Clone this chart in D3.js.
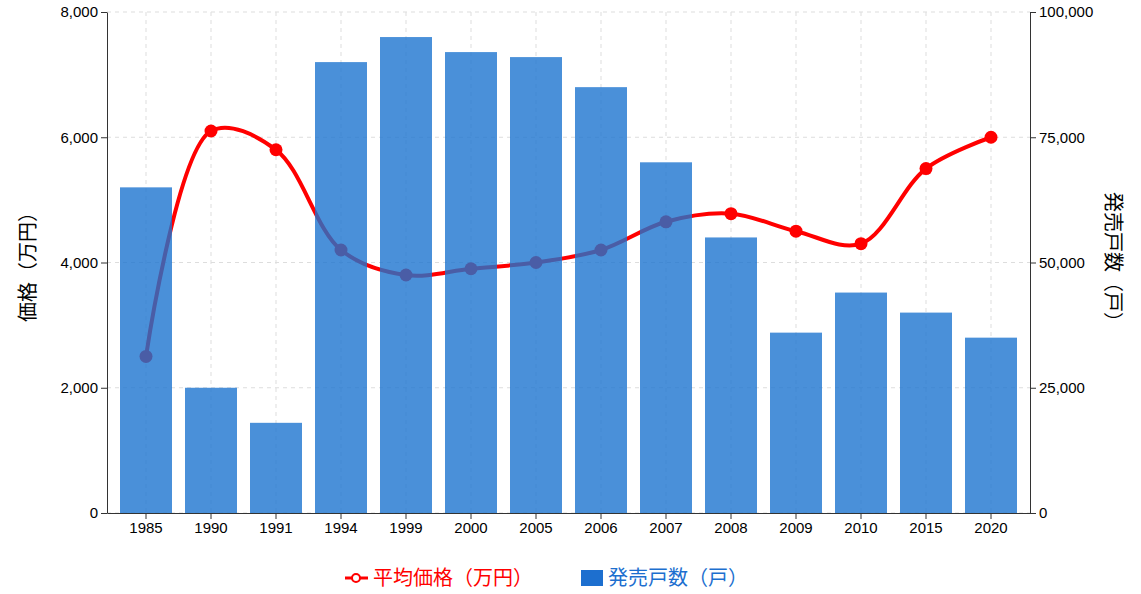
<!DOCTYPE html>
<html><head><meta charset="utf-8">
<script src="https://cdn.jsdelivr.net/npm/d3@7/dist/d3.min.js"></script>
<style>body{margin:0;background:#fff;font-family:"Noto Sans CJK JP","Noto Sans",sans-serif;}</style>
</head><body><svg id="c" width="1141" height="594"></svg>
<script>
const years=["1985","1990","1991","1994","1999","2000","2005","2006","2007","2008","2009","2010","2015","2020"];
const units=[65000,25000,18000,90000,95000,92000,91000,85000,70000,55000,36000,44000,40000,35000];
const prices=[2500,6100,5800,4200,3800,3900,4000,4200,4650,4780,4500,4300,5500,6000];
const leftTicks=[0,2000,4000,6000,8000];
const rightTicks=[0,25000,50000,75000,100000];
const svg=d3.select("#c");
const L=107,R=1030,T=12,B=513;
const x=d3.scaleBand().domain(years).range([L,R]).padding(0.2);
const yl=d3.scaleLinear().domain([0,8000]).range([B,T]);
const yr=d3.scaleLinear().domain([0,100000]).range([B,T]);
const g=svg.append("g");
g.selectAll(".vg").data(years).enter().append("line").attr("x1",d=>x(d)+x.bandwidth()/2).attr("x2",d=>x(d)+x.bandwidth()/2).attr("y1",T).attr("y2",B).attr("stroke","#ddd").attr("stroke-dasharray","4,4");
g.selectAll(".hg").data(leftTicks).enter().append("line").attr("x1",L).attr("x2",R).attr("y1",d=>yl(d)).attr("y2",d=>yl(d)).attr("stroke","#ddd").attr("stroke-dasharray","4,4");
const cx=(d,i)=>x(years[i])+x.bandwidth()/2;
svg.append("path").datum(prices).attr("d",d3.line().x(cx).y(d=>yl(d)).curve(d3.curveCatmullRom.alpha(0.5))).attr("fill","none").attr("stroke","#f00").attr("stroke-width",4);
svg.selectAll(".pt").data(prices).enter().append("circle").attr("cx",cx).attr("cy",d=>yl(d)).attr("r",6.5).attr("fill","#f00");
svg.selectAll(".bar").data(units).enter().append("rect").attr("x",(d,i)=>x(years[i])).attr("width",x.bandwidth()).attr("y",d=>yr(d)).attr("height",d=>B-yr(d)).attr("fill","#1d74cf").attr("opacity",0.8);
const ax=svg.append("g").attr("transform",`translate(0,${B})`).call(d3.axisBottom(x).tickSizeOuter(0));
const al=svg.append("g").attr("transform",`translate(${L},0)`).call(d3.axisLeft(yl).tickValues(leftTicks).tickSizeOuter(0));
const ar=svg.append("g").attr("transform",`translate(${R},0)`).call(d3.axisRight(yr).tickValues(rightTicks).tickSizeOuter(0));
[ax,al,ar].forEach(a=>{a.selectAll("text").attr("font-size",15).attr("fill","#000").attr("font-family","Liberation Sans, Arial, sans-serif");a.selectAll("line,path").attr("stroke","#333");});
svg.append("text").attr("transform","translate(35,262) rotate(-90)").attr("text-anchor","middle").attr("font-size",20).text("価格（万円）");
svg.append("text").attr("transform","translate(1106,262) rotate(90)").attr("text-anchor","middle").attr("font-size",20).text("発売戸数（戸）");
const lg=svg.append("g");
lg.append("line").attr("x1",345).attr("x2",368).attr("y1",578).attr("y2",578).attr("stroke","#f00").attr("stroke-width",3);
lg.append("circle").attr("cx",356).attr("cy",578).attr("r",4).attr("fill","#fff").attr("stroke","#f00").attr("stroke-width",2);
lg.append("text").attr("x",373).attr("y",585).attr("font-size",20).attr("fill","#f00").text("平均価格（万円）");
lg.append("rect").attr("x",581).attr("y",570).attr("width",22).attr("height",16).attr("fill","#1d6fcf");
lg.append("text").attr("x",608).attr("y",585).attr("font-size",20).attr("fill","#1d6fcf").text("発売戸数（戸）");
</script></body></html>
